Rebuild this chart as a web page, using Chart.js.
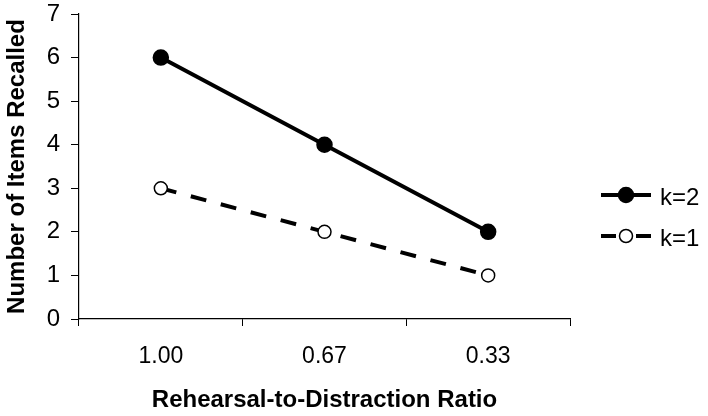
<!DOCTYPE html>
<html>
<head>
<meta charset="utf-8">
<script src="https://cdn.jsdelivr.net/npm/chart.js@4.4.0/dist/chart.umd.min.js"></script>
<style>
  html, body { margin: 0; padding: 0; background: #fff; }
  #wrap { width: 708px; height: 416px; position: relative; }
</style>
</head>
<body>
<div id="wrap"><canvas id="chart" width="708" height="416"></canvas></div>
<script>
const ratios = ["1.00", "0.67", "0.33"];
const k2Values = [6, 4, 2];
const k1Values = [3, 2, 1];
const seriesNames = ["k=2", "k=1"];

const FONT = "'Liberation Sans', Arial, sans-serif";

// legend at the right: line sample + marker + label
const sideLegend = {
  id: "sideLegend",
  afterDraw(chart) {
    const ctx = chart.ctx;
    const rows = [195, 236];
    chart.data.datasets.forEach((ds, i) => {
      const y = rows[i];
      const x0 = 601, x1 = 651, cx = 626;
      ctx.save();
      ctx.strokeStyle = "#000";
      ctx.lineWidth = ds.borderWidth;
      ctx.setLineDash(ds.borderDash ? [15, 20] : []);
      ctx.beginPath();
      ctx.moveTo(x0, y);
      ctx.lineTo(x1, y);
      ctx.stroke();
      ctx.setLineDash([]);
      ctx.beginPath();
      ctx.arc(cx, y, ds.pointRadius, 0, Math.PI * 2);
      ctx.fillStyle = ds.pointBackgroundColor;
      ctx.fill();
      ctx.lineWidth = ds.pointBorderWidth;
      ctx.stroke();
      ctx.fillStyle = "#000";
      ctx.font = "24px " + FONT;
      ctx.textBaseline = "middle";
      ctx.fillText(ds.label, 660, y + 3);
      ctx.restore();
    });
  },
};

new Chart(document.getElementById("chart"), {
  type: "line",
  data: {
    labels: ratios,
    datasets: [
      {
        label: seriesNames[0],
        data: k2Values,
        borderColor: "#000",
        borderWidth: 4,
        pointRadius: 7.5,
        pointBackgroundColor: "#000",
        pointBorderColor: "#000",
        pointBorderWidth: 1.5,
        tension: 0,
      },
      {
        label: seriesNames[1],
        data: k1Values,
        borderColor: "#000",
        borderWidth: 4,
        borderDash: [16, 15],
        pointRadius: 6.5,
        pointBackgroundColor: "#fff",
        pointBorderColor: "#000",
        pointBorderWidth: 1.5,
        tension: 0,
      },
    ],
  },
  options: {
    responsive: false,
    animation: false,
    layout: { padding: { top: 0, right: 138, left: 0, bottom: 0 } },
    plugins: {
      legend: { display: false },
      tooltip: { enabled: false },
    },
    scales: {
      x: {
        offset: true,
        grid: {
          offset: true,
          drawOnChartArea: false,
          drawTicks: true,
          tickLength: 7,
          color: "#000",
        },
        border: { color: "#000", width: 1.2 },
        ticks: {
          color: "#000",
          padding: 17,
          font: { family: FONT, size: 23 },
        },
        title: {
          display: true,
          text: "Rehearsal-to-Distraction Ratio",
          color: "#000",
          font: { family: FONT, size: 24, weight: "bold" },
          padding: { top: 0, bottom: 1 },
        },
        afterFit(scale) {
          scale.height = 97;
        },
      },
      y: {
        min: 0,
        max: 7,
        ticks: {
          stepSize: 1,
          color: "#000",
          padding: 11,
          font: { family: FONT, size: 24 },
        },
        grid: {
          drawOnChartArea: false,
          drawTicks: true,
          tickLength: 8,
          color: "#000",
        },
        border: { color: "#000", width: 1.2 },
        title: {
          display: true,
          text: "Number of Items Recalled",
          color: "#000",
          font: { family: FONT, size: 24, weight: "bold" },
          padding: { top: 3, bottom: 0 },
        },
        afterFit(scale) {
          scale.width = 79;
          scale.paddingTop = 14;
          scale.paddingBottom = 0;
        },
      },
    },
  },
  plugins: [sideLegend],
});
</script>
</body>
</html>
